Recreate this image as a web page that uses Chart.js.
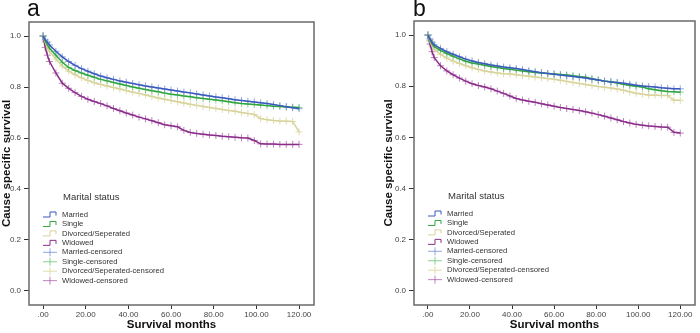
<!DOCTYPE html>
<html>
<head>
<meta charset="utf-8">
<script src="https://cdn.jsdelivr.net/npm/chart.js@4"></script>
<style>
    body { margin: 0; background: #fff; }
    #wrap { position: relative; width: 700px; height: 333px; font-family: 'Liberation Sans', Arial, sans-serif; }
    .panel { position: absolute; top: 0; width: 350px; height: 333px; }
    .letter { position: absolute; top: -3px; font-size: 23px; line-height: 23px; color: #111; }
</style>
</head>
<body>
<div id="wrap">
    <div class="panel" style="left:0"><canvas id="chartA" width="350" height="333"></canvas></div>
    <div class="panel" style="left:350px"><canvas id="chartB" width="350" height="333"></canvas></div>
    <div class="letter" style="left:27px">a</div>
    <div class="letter" style="left:413px">b</div>
</div>
<script>
const groups = ['Married', 'Single', 'Divorced/Seperated', 'Widowed'];
const legendTitle = 'Marital status';

const months = [0, 1, 2, 3, 6, 9, 12, 15, 18, 21, 24, 27, 30, 33, 36, 39, 42, 45, 48, 51, 54, 57, 60,
    63, 66, 69, 72, 75, 78, 81, 84, 87, 90, 93, 96, 99, 102, 105, 108, 111, 114, 117, 120];

// panel a
const aMarried = [1.0, 0.985, 0.976, 0.965, 0.94, 0.918, 0.90, 0.885, 0.872, 0.862, 0.852, 0.843, 0.836, 0.83, 0.824, 0.819, 0.814, 0.809, 0.804, 0.80, 0.796, 0.792, 0.788,
    0.784, 0.78, 0.777, 0.773, 0.769, 0.765, 0.761, 0.758, 0.754, 0.75, 0.747, 0.744, 0.741, 0.738, 0.735, 0.731, 0.727, 0.723, 0.719, 0.715];
const aSingle = [1.0, 0.98, 0.965, 0.952, 0.925, 0.897, 0.877, 0.865, 0.855, 0.846, 0.838, 0.83, 0.824, 0.818, 0.812, 0.806, 0.80, 0.795, 0.79, 0.785, 0.781, 0.776, 0.772,
    0.769, 0.765, 0.762, 0.758, 0.755, 0.752, 0.749, 0.746, 0.742, 0.738, 0.735, 0.733, 0.731, 0.729, 0.727, 0.725, 0.724, 0.722, 0.721, 0.72];
const aDivorced = [1.0, 0.975, 0.955, 0.94, 0.91, 0.882, 0.862, 0.848, 0.836, 0.826, 0.817, 0.81, 0.804, 0.798, 0.792, 0.786, 0.78, 0.775, 0.769, 0.763, 0.757, 0.752, 0.747,
    0.742, 0.737, 0.732, 0.728, 0.724, 0.72, 0.716, 0.712, 0.708, 0.705, 0.70, 0.696, 0.692, 0.676, 0.672, 0.669, 0.667, 0.666, 0.665, 0.624];
const aWidowed = [1.0, 0.955, 0.925, 0.90, 0.855, 0.815, 0.795, 0.778, 0.763, 0.752, 0.743, 0.735, 0.726, 0.716, 0.707, 0.698, 0.69, 0.682, 0.675, 0.668, 0.66, 0.652, 0.648,
    0.644, 0.63, 0.622, 0.618, 0.615, 0.612, 0.61, 0.607, 0.605, 0.603, 0.601, 0.60, 0.59, 0.577, 0.576, 0.576, 0.575, 0.575, 0.575, 0.575];

// panel b
const bMarried = [1.0, 0.985, 0.972, 0.962, 0.948, 0.935, 0.925, 0.915, 0.906, 0.899, 0.893, 0.888, 0.883, 0.879, 0.875, 0.872, 0.869, 0.865, 0.861, 0.857, 0.853, 0.85, 0.847,
    0.844, 0.841, 0.838, 0.835, 0.832, 0.828, 0.824, 0.82, 0.817, 0.815, 0.812, 0.808, 0.804, 0.801, 0.799, 0.797, 0.794, 0.792, 0.79, 0.79];
const bSingle = [1.0, 0.98, 0.965, 0.955, 0.94, 0.928, 0.917, 0.907, 0.898, 0.891, 0.887, 0.882, 0.877, 0.873, 0.869, 0.866, 0.863, 0.86, 0.857, 0.854, 0.852, 0.85, 0.848,
    0.846, 0.844, 0.841, 0.838, 0.835, 0.829, 0.824, 0.82, 0.818, 0.813, 0.808, 0.803, 0.80, 0.797, 0.79, 0.786, 0.782, 0.779, 0.778, 0.777];
const bDivorced = [1.0, 0.975, 0.958, 0.945, 0.925, 0.91, 0.898, 0.889, 0.88, 0.872, 0.866, 0.86, 0.856, 0.852, 0.849, 0.848, 0.845, 0.842, 0.839, 0.836, 0.833, 0.83, 0.827,
    0.823, 0.819, 0.815, 0.811, 0.807, 0.803, 0.799, 0.796, 0.793, 0.789, 0.784, 0.778, 0.773, 0.769, 0.766, 0.765, 0.764, 0.764, 0.745, 0.745];
const bWidowed = [1.0, 0.965, 0.935, 0.912, 0.88, 0.86, 0.845, 0.832, 0.82, 0.81, 0.803, 0.797, 0.79, 0.781, 0.772, 0.762, 0.752, 0.746, 0.741, 0.737, 0.732, 0.727, 0.722,
    0.717, 0.713, 0.709, 0.705, 0.70, 0.695, 0.689, 0.683, 0.676, 0.669, 0.662, 0.656, 0.651, 0.648, 0.645, 0.643, 0.641, 0.64, 0.62, 0.617];

const xTicks = [0, 20, 40, 60, 80, 100, 120];
const xTickLabels = ['.00', '20.00', '40.00', '60.00', '80.00', '100.00', '120.00'];
const yTicks = [0, 0.2, 0.4, 0.6, 0.8, 1.0];
const yTickLabels = ['0.0', '0.2', '0.4', '0.6', '0.8', '1.0'];

const lineColors = ['#3a58bd', '#2ea53c', '#d7d39c', '#8a2c8a'];
const censorColors = ['rgba(110,135,215,0.75)', 'rgba(95,195,110,0.75)', 'rgba(222,219,165,0.95)', 'rgba(170,90,170,0.75)'];

const FONT = "'Liberation Sans', Arial, sans-serif";

// frame around the plot area
const framePlugin = {
    id: 'frame',
    afterDraw(chart) {
        const { ctx, chartArea: a } = chart;
        ctx.save();
        ctx.strokeStyle = '#6a6a6a';
        ctx.lineWidth = 1.5;
        ctx.strokeRect(a.left, a.top, a.right - a.left, a.bottom - a.top);
        ctx.restore();
    }
};

// SPSS style legend inside the plot
const insideLegend = {
    id: 'insideLegend',
    afterDraw(chart) {
        const { ctx, chartArea: a } = chart;
        ctx.save();
        ctx.textBaseline = 'middle';
        ctx.fillStyle = '#333';
        ctx.font = '9.5px ' + FONT;
        ctx.fillText(legendTitle, a.left + 34, a.top + 175);
        ctx.font = '7.7px ' + FONT;
        chart.data.datasets.forEach((ds, i) => {
            const y = a.top + 192.5 + i * 9.45;
            const x = a.left + 14;
            ctx.lineWidth = 1;
            ctx.strokeStyle = ds.borderColor;
            ctx.beginPath();
            if (ds.showLine) {
                ctx.moveTo(x, y + 2.5);
                ctx.lineTo(x + 7, y + 2.5);
                ctx.lineTo(x + 7, y - 2.5);
                ctx.lineTo(x + 13, y - 2.5);
                ctx.lineTo(x + 13, y + 1);
            } else {
                ctx.moveTo(x, y);
                ctx.lineTo(x + 14, y);
                ctx.moveTo(x + 7, y - 4);
                ctx.lineTo(x + 7, y + 4);
            }
            ctx.stroke();
            ctx.fillStyle = '#333';
            ctx.fillText(ds.label, a.left + 33, y);
        });
        ctx.restore();
    }
};

function toPoints(values) {
    return months.map((m, i) => ({ x: m, y: values[i] }));
}

function buildChart(id, series, pad, yWidth) {
    const datasets = [];
    groups.forEach((g, i) => {
        datasets.push({
            label: g,
            data: toPoints(series[i]),
            showLine: true,
            borderColor: lineColors[i],
            borderWidth: 1.5,
            pointRadius: 0
        });
    });
    groups.forEach((g, i) => {
        datasets.push({
            label: g + '-censored',
            data: toPoints(series[i]),
            showLine: false,
            pointStyle: 'cross',
            pointRadius: 3.5,
            pointBorderWidth: 1,
            borderColor: censorColors[i],
            backgroundColor: censorColors[i]
        });
    });

    const tickFont = { family: FONT, size: 8 };
    const titleFont = { family: FONT, size: 11.5, weight: 'bold' };

    new Chart(document.getElementById(id).getContext('2d'), {
        type: 'scatter',
        data: { datasets: datasets },
        options: {
            responsive: false,
            animation: false,
            layout: { padding: pad },
            plugins: { legend: { display: false }, tooltip: { enabled: false } },
            scales: {
                x: {
                    type: 'linear',
                    min: -6.6,
                    max: 127,
                    afterBuildTicks: s => { s.ticks = xTicks.map(v => ({ value: v })); },
                    afterFit: s => { s.height = 28; },
                    ticks: {
                        callback: v => xTickLabels[xTicks.indexOf(v)],
                        font: tickFont, color: '#444', padding: 1, maxRotation: 0, autoSkip: false
                    },
                    grid: { drawOnChartArea: false, tickLength: 4, tickColor: '#333' },
                    border: { display: false },
                    title: { display: true, text: 'Survival months', font: titleFont, color: '#111', padding: { top: 0, bottom: 1 } }
                },
                y: {
                    type: 'linear',
                    min: -0.055,
                    max: 1.055,
                    afterBuildTicks: s => { s.ticks = yTicks.map(v => ({ value: v })); },
                    afterFit: s => { s.width = yWidth; },
                    ticks: {
                        callback: v => yTickLabels[yTicks.indexOf(v)],
                        font: tickFont, color: '#444', padding: 3, autoSkip: false
                    },
                    grid: { drawOnChartArea: false, tickLength: 5, tickColor: '#333' },
                    border: { display: false },
                    title: { display: true, text: 'Cause specific survival', font: titleFont, color: '#111', padding: { top: 0, bottom: 0 } }
                }
            }
        },
        plugins: [framePlugin, insideLegend]
    });
}

buildChart('chartA', [aMarried, aSingle, aDivorced, aWidowed], { left: 0, right: 36, top: 22, bottom: 0 }, 29);
buildChart('chartB', [bMarried, bSingle, bDivorced, bWidowed], { left: 32, right: 1, top: 21, bottom: 0 }, 32);
</script>
</body>
</html>
